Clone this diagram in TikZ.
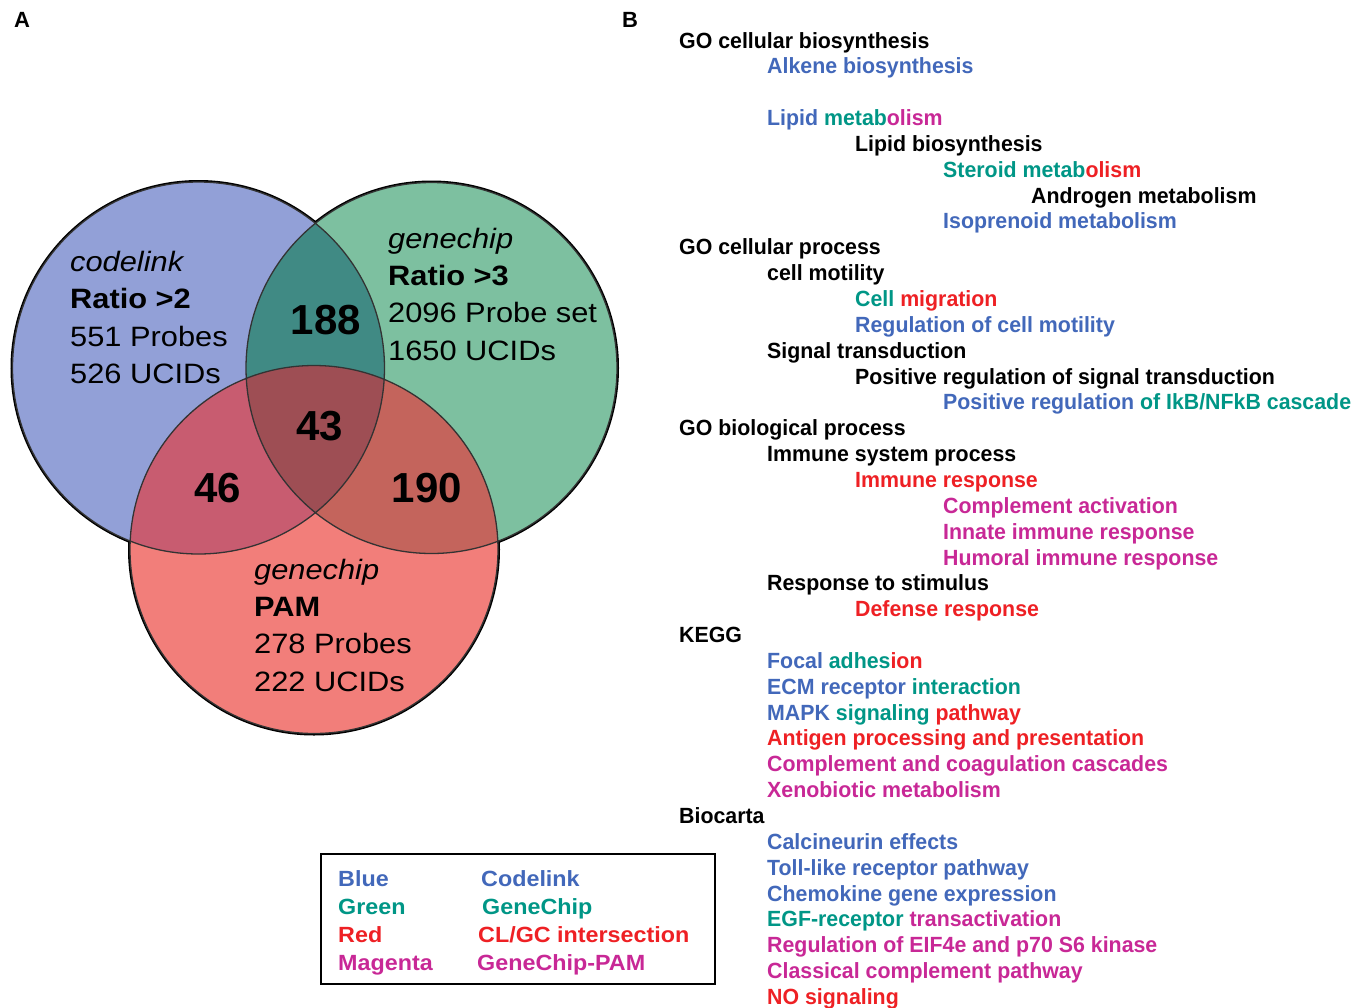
\documentclass[tikz,border=0pt]{standalone}
\usepackage{fontspec}
\setmainfont{Liberation Sans}
\newfontfamily\listfont[FakeStretch=0.97]{Liberation Sans}
\newfontfamily\vennfont[FakeStretch=1.1]{Liberation Sans}
\newfontfamily\keyfont[FakeStretch=1.06]{Liberation Sans}
\definecolor{cblue}{RGB}{146,160,215}
\definecolor{cgreen}{RGB}{125,192,160}
\definecolor{cred}{RGB}{242,126,122}
\definecolor{cbg}{RGB}{64,138,132}
\definecolor{cbr}{RGB}{200,92,112}
\definecolor{cgr}{RGB}{196,100,92}
\definecolor{call}{RGB}{158,78,84}
\definecolor{tblue}{RGB}{66,104,186}
\definecolor{tteal}{RGB}{0,150,134}
\definecolor{tred}{RGB}{238,32,36}
\definecolor{tmag}{RGB}{200,40,150}
\newcommand{\kB}{\color{tblue}}
\newcommand{\kG}{\color{tteal}}
\newcommand{\kR}{\color{tred}}
\newcommand{\kM}{\color{tmag}}
\begin{document}
\begin{tikzpicture}[x=1pt,y=-1pt,
  item/.style={anchor=base west,inner sep=0pt,font=\listfont\fontsize{22}{26}\selectfont\bfseries},
  venn/.style={anchor=base west,inner sep=0pt,font=\vennfont\fontsize{28}{34}\selectfont},
  count/.style={inner sep=0pt,font=\fontsize{42}{48}\selectfont\bfseries},
  key/.style={anchor=base west,inner sep=0pt,font=\keyfont\fontsize{22}{26}\selectfont\bfseries},
  panel/.style={inner sep=0pt,font=\fontsize{22}{26}\selectfont\bfseries}]
  \useasboundingbox (0,0) rectangle (1368,1007);
  \node[panel] (labA) at (22,20) {A};
  \node[panel] (labB) at (630,20) {B};
  % venn
  \coordinate (cl) at (198.5,368);
  \coordinate (gc) at (431.5,368);
  \coordinate (pam) at (314,549.5);
  \draw[line width=4pt] (cl) circle (186) (gc) circle (185.5) (pam) circle (184);
  \fill[cblue] (cl) circle (186);
  \fill[cgreen] (gc) circle (185.5);
  \fill[cred] (pam) circle (184);
  \begin{scope}
    \clip (gc) circle (185.5);
    \fill[cgr] (pam) circle (184);
  \end{scope}
  \begin{scope}
    \clip (cl) circle (186);
    \fill[cbg] (gc) circle (185.5);
    \fill[cbr] (pam) circle (184);
    \clip (gc) circle (185.5);
    \fill[call] (pam) circle (184);
  \end{scope}
  \draw[line width=1.3pt,black!80] (cl) circle (186) (gc) circle (185.5) (pam) circle (184);
  \node[venn] (cl1) at (70,271) {\itshape codelink};
  \node[venn] (cl2) at (70,308) {\bfseries Ratio >2};
  \node[venn] (cl3) at (70,346) {551 Probes};
  \node[venn] (cl4) at (70,383) {526 UCIDs};
  \node[venn] (gc1) at (388,248) {\itshape genechip};
  \node[venn] (gc2) at (388,285) {\bfseries Ratio >3};
  \node[venn] (gc3) at (388,322) {2096 Probe set};
  \node[venn] (gc4) at (388,360) {1650 UCIDs};
  \node[venn] (pam1) at (254,579) {\itshape genechip};
  \node[venn] (pam2) at (254,616) {\bfseries PAM};
  \node[venn] (pam3) at (254,653) {278 Probes};
  \node[venn] (pam4) at (254,691) {222 UCIDs};
  \node[count] (n188) at (326,320) {188};
  \node[count] (n43) at (320,426) {43};
  \node[count] (n46) at (218,488) {46};
  \node[count] (n190) at (427,488) {190};
  % legend
  \node[draw,line width=2.5pt,minimum width=394pt,minimum height=130pt,inner sep=0pt] (keybox) at (518,919) {};
  \foreach \j/\col/\bx/\a/\b in {0/tblue/481/Blue/Codelink,1/tteal/482/Green/GeneChip,
      2/tred/478/Red/{CL/GC intersection},3/tmag/477/Magenta/GeneChip-PAM} {
    \node[key,text=\col] (k\j) at (338,{886+28*\j}) {\a};
    \node[key,text=\col] (v\j) at (\bx,{886+28*\j}) {\b};
  }
  % term list
  \foreach \i/\lv/\txt in {
      0/0/{GO cellular biosynthesis},
      1/1/{\kB Alkene biosynthesis},
      3/1/{\kB Lipid \kG metab\kM olism},
      4/2/{Lipid biosynthesis},
      5/3/{\kG Steroid metab\kR olism},
      6/4/{Androgen metabolism},
      7/3/{\kB Isoprenoid metabolism},
      8/0/{GO cellular process},
      9/1/{cell motility},
      10/2/{\kG Cell \kR migration},
      11/2/{\kB Regulation of cell motility},
      12/1/{Signal transduction},
      13/2/{Positive regulation of signal transduction},
      14/3/{\kB Positive regulation \kG of IkB/NFkB cascade},
      15/0/{GO biological process},
      16/1/{Immune system process},
      17/2/{\kR Immune response},
      18/3/{\kM Complement activation},
      19/3/{\kM Innate immune response},
      20/3/{\kM Humoral immune response},
      21/1/{Response to stimulus},
      22/2/{\kR Defense response},
      23/0/{KEGG},
      24/1/{\kB Focal \kG adhes\kR ion},
      25/1/{\kB ECM receptor \kG interaction},
      26/1/{\kB MAPK \kG signaling \kR pathway},
      27/1/{\kR Antigen processing and presentation},
      28/1/{\kM Complement and coagulation cascades},
      29/1/{\kM Xenobiotic metabolism},
      30/0/{Biocarta},
      31/1/{\kB Calcineurin effects},
      32/1/{\kB Toll-like receptor pathway},
      33/1/{\kB Chemokine gene expression},
      34/1/{\kG EGF-receptor \kM transactivation},
      35/1/{\kM Regulation of EIF4e and p70 S6 kinase},
      36/1/{\kM Classical complement pathway},
      37/1/{\kR NO signaling}} {
    \node[item] (g\i) at ({679+88*\lv},{48+25.85*\i}) {\txt};
  }
\end{tikzpicture}
\end{document}
